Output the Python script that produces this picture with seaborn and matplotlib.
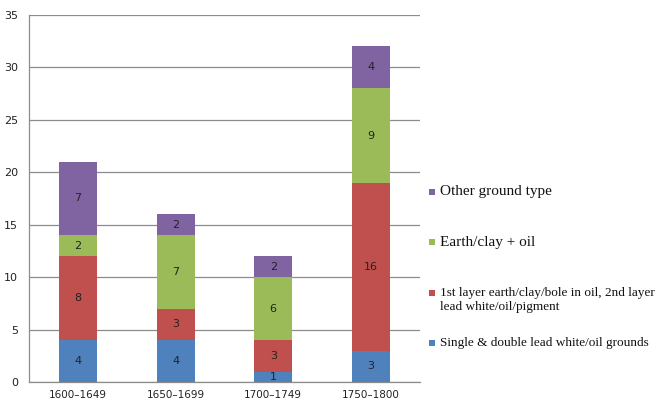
import matplotlib
matplotlib.use("Agg")
import matplotlib.pyplot as plt
import seaborn as sns
import pandas as pd
import numpy as np
from matplotlib.patches import Rectangle

periods = ["1600\u20131649", "1650\u20131699", "1700\u20131749", "1750\u20131800"]
single_double_lead_white = [4, 4, 1, 3]
earth_then_lead_white = [8, 3, 3, 16]
earth_clay_oil = [2, 7, 6, 9]
other_ground = [7, 2, 2, 4]

series_values = [single_double_lead_white, earth_then_lead_white, earth_clay_oil, other_ground]
colors = ["#4F81BD", "#C0504D", "#9BBB59", "#8064A2"]

sns.set_style("white")
fig = plt.figure(figsize=(6.64, 4.01), dpi=100)
ax = fig.add_axes([0.044, 0.047, 0.588, 0.916])

vals = np.array(series_values, dtype=float)
cum = np.cumsum(vals, axis=0)

# Stack by drawing cumulative totals from the top layer down
for i in range(len(series_values) - 1, -1, -1):
    df = pd.DataFrame({"period": periods, "value": cum[i]})
    sns.barplot(data=df, x="period", y="value", color=colors[i], width=0.39,
                saturation=1, ax=ax, linewidth=0, zorder=3)

for i in range(len(series_values)):
    for j in range(len(periods)):
        v = vals[i, j]
        mid = cum[i, j] - v / 2
        ax.text(j, mid, f"{int(v)}", ha="center", va="center", fontsize=8,
                color="#222222", zorder=5)

ax.set_xlim(-0.5, 3.5)
ax.set_ylim(0, 35)
ax.set_yticks(np.arange(0, 36, 5))
ax.set_xlabel("")
ax.set_ylabel("")
ax.yaxis.grid(True, color="#8c8c8c", linewidth=0.9, zorder=0)
ax.set_axisbelow(True)
for s in ["top", "right"]:
    ax.spines[s].set_visible(False)
for s in ["left", "bottom"]:
    ax.spines[s].set_color("#8c8c8c")
    ax.spines[s].set_linewidth(0.9)
ax.tick_params(axis="x", length=0, labelsize=7.5, pad=6, colors="#222222")
ax.tick_params(axis="y", length=0, labelsize=8, pad=8, colors="#222222")
ax.set_xticks(np.arange(-0.5, 4.0, 1.0), minor=True)
ax.tick_params(axis="x", which="minor", length=4, color="#8c8c8c", direction="out")

# Legend entries beside the plot area
legend_items = [
    ("Other ground type", colors[3], 192, 11),
    ("Earth/clay + oil", colors[2], 242, 11),
    ("1st layer earth/clay/bole in oil, 2nd layer\nlead white/oil/pigment", colors[1], 300, 9.5),
    ("Single & double lead white/oil grounds", colors[0], 343, 9.5),
]
W, H = 664, 401
for label, col, ypx, fs in legend_items:
    first_line_y = ypx - (7 if "\n" in label else 0)
    fig.patches.append(Rectangle((429 / W, 1 - (first_line_y + 3) / H), 6 / W, 6 / H,
                                 transform=fig.transFigure, facecolor=col, edgecolor="none"))
    fig.text(440 / W, 1 - ypx / H, label, fontsize=fs, family="Liberation Serif",
             ha="left", va="center", color="#111111", linespacing=1.2)

fig.savefig("out.png", dpi=100)
